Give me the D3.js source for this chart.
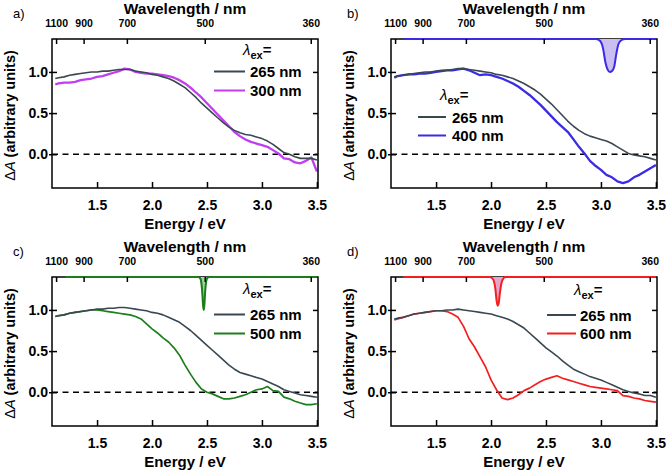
<!DOCTYPE html>
<html><head><meta charset="utf-8">
<script src="https://cdn.jsdelivr.net/npm/d3@7"></script>
<style>
html,body{margin:0;padding:0;background:#fff;}
text{font-family:"Liberation Sans",Arial,sans-serif;}
</style></head>
<body><svg id="c" width="667" height="474"></svg>
<script>
// ---------- data ----------
const energy = [1.12,1.15,1.2,1.25,1.3,1.35,1.4,1.45,1.5,1.55,1.6,1.65,1.7,1.75,1.8,1.85,1.9,1.95,2.0,2.05,2.1,2.15,2.2,2.25,2.3,2.35,2.4,2.45,2.5,2.55,2.6,2.65,2.7,2.75,2.8,2.85,2.9,2.95,3.0,3.05,3.1,3.15,3.2,3.25,3.3,3.35,3.4,3.45,3.5];

const a265 = [0.92,0.93,0.94,0.96,0.97,0.98,0.99,1.00,1.00,1.01,1.01,1.02,1.03,1.03,1.03,1.01,1.00,0.99,0.97,0.96,0.94,0.92,0.89,0.85,0.81,0.75,0.69,0.62,0.56,0.50,0.44,0.38,0.33,0.29,0.26,0.24,0.23,0.21,0.19,0.16,0.12,0.07,0.02,0.00,-0.03,-0.05,-0.05,-0.05,-0.07];
const a300 = [0.85,0.86,0.87,0.87,0.88,0.90,0.91,0.92,0.94,0.95,0.97,0.99,1.01,1.04,1.03,1.00,0.99,0.98,0.98,0.97,0.96,0.95,0.93,0.90,0.86,0.81,0.75,0.69,0.62,0.55,0.48,0.41,0.34,0.27,0.22,0.18,0.15,0.13,0.11,0.09,0.05,0.01,-0.05,-0.06,-0.10,-0.11,-0.08,-0.04,-0.21];

const b265 = [0.94,0.95,0.96,0.97,0.98,0.99,1.00,1.00,1.01,1.02,1.02,1.03,1.04,1.04,1.03,1.02,1.01,1.00,0.99,0.97,0.96,0.94,0.92,0.89,0.86,0.82,0.78,0.73,0.67,0.61,0.54,0.47,0.40,0.34,0.29,0.25,0.22,0.20,0.18,0.16,0.13,0.09,0.05,0.01,-0.01,-0.02,-0.03,-0.05,-0.07];
const b400 = [0.93,0.95,0.96,0.97,0.97,0.98,0.98,0.99,1.00,1.01,1.02,1.02,1.03,1.04,1.02,0.99,0.96,0.97,0.96,0.94,0.92,0.89,0.86,0.82,0.77,0.72,0.66,0.60,0.53,0.46,0.39,0.33,0.27,0.18,0.09,0.01,-0.08,-0.14,-0.19,-0.25,-0.28,-0.33,-0.35,-0.33,-0.28,-0.25,-0.21,-0.17,-0.13];

const c265 = [0.92,0.93,0.94,0.96,0.97,0.98,0.99,1.00,1.01,1.01,1.02,1.02,1.03,1.03,1.02,1.01,1.00,0.99,0.97,0.96,0.94,0.91,0.88,0.85,0.80,0.75,0.69,0.63,0.57,0.51,0.45,0.39,0.33,0.28,0.24,0.22,0.20,0.18,0.16,0.13,0.10,0.07,0.03,0.01,-0.01,-0.03,-0.04,-0.05,-0.06];
const c500 = [0.92,0.93,0.94,0.96,0.97,0.98,0.99,1.00,1.00,0.99,0.98,0.97,0.96,0.95,0.94,0.92,0.89,0.83,0.77,0.72,0.66,0.61,0.54,0.45,0.33,0.22,0.12,0.04,0.00,-0.02,-0.05,-0.08,-0.08,-0.07,-0.05,-0.03,0.00,0.03,0.04,0.07,0.02,0.01,-0.06,-0.08,-0.11,-0.13,-0.15,-0.15,-0.14];

const d265 = [0.89,0.90,0.91,0.93,0.95,0.96,0.97,0.98,0.99,0.99,1.00,1.00,1.01,1.00,0.99,0.98,0.97,0.96,0.95,0.93,0.91,0.89,0.86,0.82,0.78,0.72,0.66,0.60,0.54,0.49,0.44,0.38,0.33,0.28,0.25,0.22,0.19,0.17,0.15,0.12,0.09,0.06,0.03,0.01,-0.01,-0.02,-0.04,-0.04,-0.06];
const d600 = [0.88,0.89,0.91,0.93,0.95,0.96,0.97,0.98,0.99,0.99,0.98,0.95,0.91,0.80,0.65,0.55,0.43,0.31,0.15,0.03,-0.07,-0.09,-0.07,-0.03,0.02,0.05,0.09,0.13,0.16,0.18,0.20,0.17,0.15,0.13,0.11,0.09,0.07,0.06,0.05,0.04,0.03,0.02,-0.04,-0.05,-0.07,-0.08,-0.10,-0.11,-0.12];

// excitation (pump) spectra drawn along the top axis
const pumpB_E = [1.2,2.95,2.99,3.02,3.04,3.06,3.08,3.10,3.12,3.14,3.16,3.19,3.22,3.5];
const pumpB_V = [1.40,1.40,1.38,1.28,1.12,1.03,1.00,1.01,1.06,1.22,1.34,1.39,1.40,1.40];
const pumpC_E = [1.21,2.42,2.44,2.455,2.465,2.47,2.475,2.485,2.50,2.52,3.5];
const pumpC_V = [1.40,1.40,1.38,1.25,1.05,1.00,1.04,1.25,1.38,1.40,1.40];
const pumpD_E = [1.2,1.99,2.02,2.04,2.05,2.06,2.07,2.08,2.10,2.13,3.5];
const pumpD_V = [1.40,1.40,1.37,1.25,1.12,1.05,1.08,1.20,1.35,1.40,1.40];

const energyTicks = [1.5,2.0,2.5,3.0,3.5];
const wavelengthTicks = [1100,900,700,500,360];
const yTicks = [0.0,0.5,1.0];
const yTickLabels = ["0.0","0.5","1.0"];
const legendLabels = ["265 nm","300 nm","400 nm","500 nm","600 nm"];

// ---------- layout ----------
const colGray = "#3a4852";
const panels = [
  {label:"a)", lx:13, left:52, top:39, main:a265, other:a300, color:"#c23cf0", sw:2.3, leg:1, pump:null,
   lam:[243,55], rows:[71.5,90.5], lineX:[214,245], textX:250, fill:null},
  {label:"b)", lx:347, left:391, top:39, main:b265, other:b400, color:"#3b2ae6", sw:2.3, leg:2, pump:[pumpB_E,pumpB_V],
   lam:[440,100], rows:[117,135.5], lineX:[418,446], textX:452, fill:"#cbbff2"},
  {label:"c)", lx:13, left:52, top:277, main:c265, other:c500, color:"#1c7d1c", sw:1.7, leg:3, pump:[pumpC_E,pumpC_V],
   lam:[243,294], rows:[314.5,333.5], lineX:[214,245], textX:250, fill:"#9fd49f"},
  {label:"d)", lx:347, left:391, top:277, main:d265, other:d600, color:"#f51e1e", sw:1.7, leg:4, pump:[pumpD_E,pumpD_V],
   lam:[574,295], rows:[315,333.5], lineX:[547,576], textX:580, fill:"#e6a6cc"}
];
const PW = 266, PH = 149;

const svg = d3.select("#c");
svg.append("rect").attr("width",667).attr("height",474).attr("fill","#fff");

panels.forEach((p,i)=>{
  const x = d3.scaleLinear().domain([1.09,3.51]).range([p.left, p.left+PW]);
  const y = d3.scaleLinear().domain([-0.41,1.40]).range([p.top+PH, p.top]);
  const g = svg.append("g");
  const clipId = "clip"+i;
  svg.append("clipPath").attr("id",clipId).append("rect")
    .attr("x",p.left).attr("y",p.top-1).attr("width",PW).attr("height",PH+1);

  // zero dashed line
  g.append("line").attr("x1",x(1.09)).attr("x2",x(3.51)).attr("y1",y(0)).attr("y2",y(0))
    .attr("stroke","#000").attr("stroke-width",1.4).attr("stroke-dasharray","6,4.5");

  const line = d3.line().x((d,k)=>x(energy[k])).y(d=>y(d));
  const cg = g.append("g").attr("clip-path",`url(#${clipId})`);
  cg.append("path").attr("d",line(p.other)).attr("fill","none").attr("stroke",p.color)
    .attr("stroke-width",p.sw).attr("stroke-linejoin","round");
  cg.append("path").attr("d",line(p.main)).attr("fill","none").attr("stroke",colGray)
    .attr("stroke-width",1.6).attr("stroke-linejoin","round");

  // frame
  g.append("rect").attr("x",p.left).attr("y",p.top).attr("width",PW).attr("height",PH)
    .attr("fill","none").attr("stroke","#000").attr("stroke-width",1.5);

  // pump spectrum on top axis
  if(p.pump){
    const pts = p.pump[0].map((e,k)=>[e,p.pump[1][k]]);
    const area = d3.area().x(d=>x(d[0])).y0(y(1.40)).y1(d=>y(d[1])).curve(d3.curveMonotoneX);
    const pl = d3.line().x(d=>x(d[0])).y(d=>y(d[1])).curve(d3.curveMonotoneX);
    g.append("path").attr("d",area(pts)).attr("fill",p.fill).attr("stroke","none");
    g.append("path").attr("d",pl(pts)).attr("fill","none").attr("stroke",p.color).attr("stroke-width",2);
  }

  // bottom axis ticks (inward)
  const bottom = d3.axisBottom(x).tickValues(energyTicks).tickSizeInner(-6).tickSizeOuter(0)
    .tickFormat(d3.format(".1f")).tickPadding(12);
  const ba = g.append("g").attr("transform",`translate(0,${p.top+PH})`).call(bottom);
  ba.select(".domain").remove();
  ba.selectAll("line").attr("stroke","#000").attr("stroke-width",1.5);
  ba.selectAll("text").attr("font-size",14).attr("font-weight","bold").attr("fill","#000")
    .attr("dy","0.71em").attr("font-family","Liberation Sans, Arial, sans-serif");

  // top axis (wavelength)
  const top = d3.axisTop(x).tickValues(wavelengthTicks.map(l=>1239.84/l)).tickSizeInner(-5).tickSizeOuter(0)
    .tickFormat((d,k)=>wavelengthTicks[k]).tickPadding(12);
  const ta = g.append("g").attr("transform",`translate(0,${p.top})`).call(top);
  ta.select(".domain").remove();
  ta.selectAll("line").attr("stroke","#000").attr("stroke-width",1.5);
  ta.selectAll("text").attr("font-size",10.5).attr("font-weight","bold").attr("fill","#000")
    .attr("font-family","Liberation Sans, Arial, sans-serif");

  // left axis
  const left = d3.axisLeft(y).tickValues(yTicks).tickSizeInner(3).tickSizeOuter(0)
    .tickFormat((d,k)=>yTickLabels[k]).tickPadding(2);
  const la = g.append("g").attr("transform",`translate(${p.left},0)`).call(left);
  la.select(".domain").remove();
  la.selectAll("line").attr("x2",-3).attr("x1",5).attr("stroke","#000").attr("stroke-width",1.5);
  la.selectAll("text").attr("font-size",14).attr("font-weight","bold").attr("fill","#000")
    .attr("x",-4).attr("font-family","Liberation Sans, Arial, sans-serif");

  // right axis ticks (inward)
  const right = d3.axisRight(y).tickValues(yTicks).tickSizeInner(-5).tickSizeOuter(0).tickFormat("");
  const ra = g.append("g").attr("transform",`translate(${p.left+PW},0)`).call(right);
  ra.select(".domain").remove();
  ra.selectAll("line").attr("stroke","#000").attr("stroke-width",1.5);

  // titles
  const cx = p.left + PW/2;
  g.append("text").attr("x",cx).attr("y",p.top-25).attr("text-anchor","middle")
    .attr("font-size",15.5).attr("font-weight","bold").text("Wavelength / nm");
  g.append("text").attr("x",cx).attr("y",p.top+PH+40.5).attr("text-anchor","middle")
    .attr("font-size",15).attr("font-weight","bold").text("Energy / eV");
  const yt = g.append("text").attr("transform",`translate(${p.left-37},${p.top+PH/2+2}) rotate(-90)`)
    .attr("text-anchor","middle").attr("font-size",14.5).attr("font-weight","bold");
  yt.append("tspan").attr("font-weight","normal").text("\u0394");
  yt.append("tspan").attr("font-style","italic").attr("font-weight","normal").text("A");
  yt.append("tspan").text(" (arbitrary units)");

  g.append("text").attr("x",p.lx).attr("y",p.top-21).attr("font-size",13).text(p.label);

  // legend
  const lt = g.append("text").attr("x",p.lam[0]).attr("y",p.lam[1]).attr("font-size",15);
  lt.append("tspan").attr("font-style","italic").text("\u03bb");
  lt.append("tspan").attr("font-size",11).attr("font-weight","bold").attr("dy",4).text("ex");
  lt.append("tspan").attr("font-size",15).attr("font-weight","bold").attr("dy",-4).text("=");
  const legs = [[colGray,legendLabels[0]],[p.color,legendLabels[p.leg]]];
  legs.forEach((l,k)=>{
    g.append("line").attr("x1",p.lineX[0]).attr("x2",p.lineX[1]).attr("y1",p.rows[k]).attr("y2",p.rows[k])
      .attr("stroke",l[0]).attr("stroke-width",2);
    g.append("text").attr("x",p.textX).attr("y",p.rows[k]+5.5).attr("font-size",15)
      .attr("font-weight","bold").text(l[1]);
  });
});
</script></body></html>
